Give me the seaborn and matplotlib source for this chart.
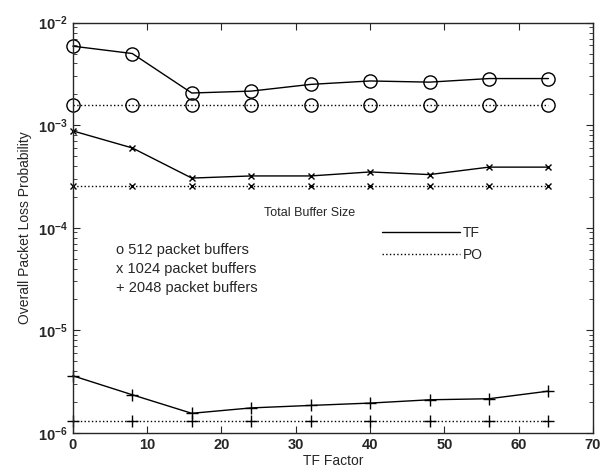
import matplotlib
matplotlib.use("Agg")
import matplotlib.pyplot as plt
from matplotlib.lines import Line2D
import seaborn as sns
import pandas as pd

# TF factor values (x axis)
tf_factor = [0, 8, 16, 24, 32, 40, 48, 56, 64]

# overall packet loss probability
tf_512 = [5.9e-3, 5.0e-3, 2.06e-3, 2.15e-3, 2.5e-3, 2.7e-3, 2.63e-3, 2.85e-3, 2.85e-3]
po_512 = [1.57e-3] * 9
tf_1024 = [8.8e-4, 6.0e-4, 3.05e-4, 3.2e-4, 3.2e-4, 3.5e-4, 3.3e-4, 3.9e-4, 3.9e-4]
po_1024 = [2.56e-4] * 9
tf_2048 = [3.6e-6, 2.35e-6, 1.55e-6, 1.75e-6, 1.85e-6, 1.95e-6, 2.1e-6, 2.15e-6, 2.55e-6]
po_2048 = [1.29e-6] * 9

sns.set_style("ticks")
plt.rcParams['font.family'] = ['Liberation Sans', 'DejaVu Sans']

fig = plt.figure(figsize=(6.07, 4.72), dpi=100)
ax = fig.add_axes([0.120, 0.083, 0.857, 0.869])

series = [
    (tf_512, "-", "o", 9.5),
    (po_512, ":", "o", 9.5),
    (tf_1024, "-", "x", 5),
    (po_1024, ":", "x", 5),
    (tf_2048, "-", "+", 8),
    (po_2048, ":", "+", 8),
]
for vals, ls, mk, ms in series:
    df = pd.DataFrame({"tf": tf_factor, "loss": vals})
    sns.lineplot(data=df, x="tf", y="loss", ax=ax, color="black", linestyle=ls,
                 linewidth=1.0, marker=mk, markersize=ms, markerfacecolor="none",
                 markeredgecolor="black", markeredgewidth=1.0, clip_on=False)

ax.set_yscale("log")
ax.set_xlim(0, 70)
ax.set_ylim(1e-6, 1e-2)
ax.set_xticks(range(0, 71, 10))
ax.tick_params(which="both", direction="in", top=True, right=True, labelsize=10.5)
ax.tick_params(which="major", length=5)
ax.tick_params(which="minor", length=3)
for lab in ax.get_xticklabels() + ax.get_yticklabels():
    lab.set_fontweight("bold")
for s in ax.spines.values():
    s.set_linewidth(1.0)

ax.set_xlabel("TF Factor", fontsize=10, labelpad=2)
ax.set_ylabel("Overall Packet Loss Probability", fontsize=10, labelpad=4)

ax.text(25.7, 1.4e-4, "Total Buffer Size", fontsize=9, va="center")
ax.text(5.8, 7.1e-5, "o 512 packet buffers\nx 1024 packet buffers\n+ 2048 packet buffers",
        fontsize=10.5, va="top", linespacing=1.45)

handles = [Line2D([], [], color="black", linestyle="-", linewidth=1.0),
           Line2D([], [], color="black", linestyle=":", linewidth=1.0)]
ax.legend(handles, ["TF", "PO"], loc="upper left", bbox_to_anchor=(0.595, 0.505),
          frameon=False, fontsize=10, handlelength=5.6, handletextpad=0.2,
          borderpad=0, borderaxespad=0, labelspacing=0.6)

fig.savefig("out.png", dpi=100)
